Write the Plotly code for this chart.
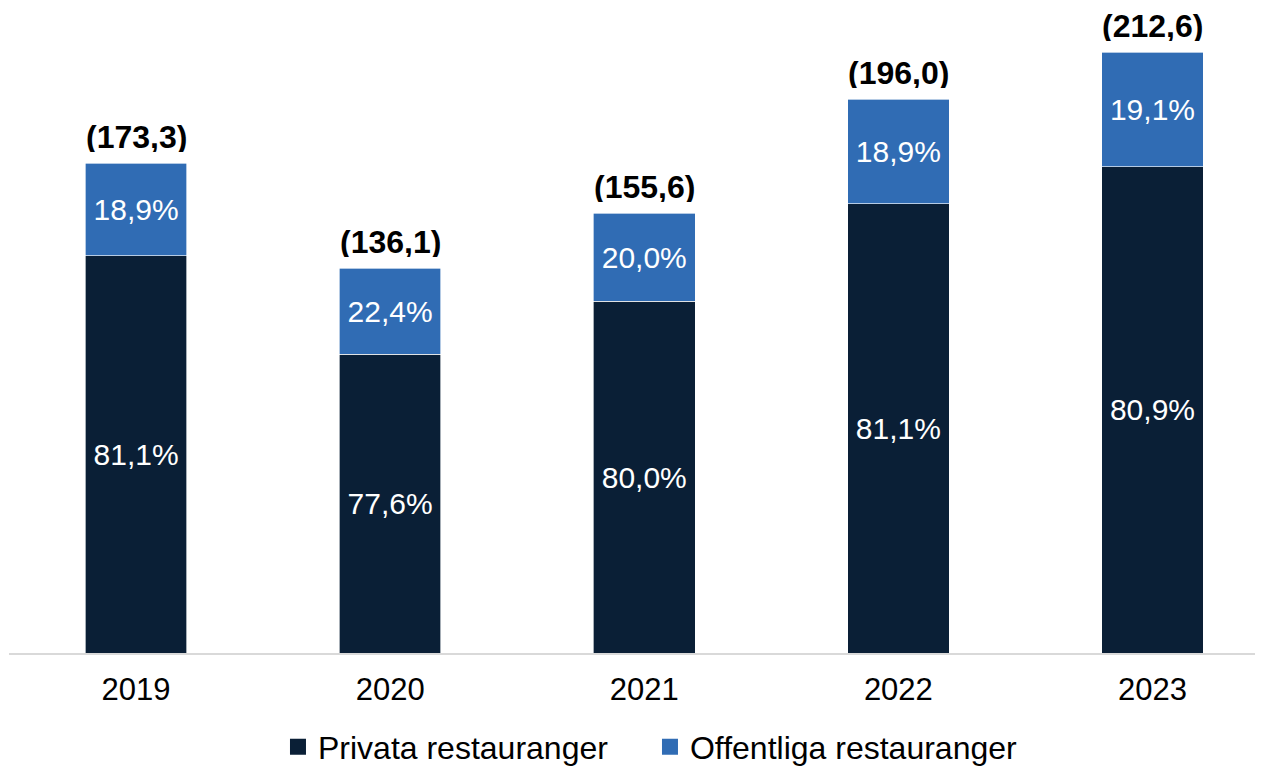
import plotly.graph_objects as go

years = ["2019", "2020", "2021", "2022", "2023"]
totals = [173.3, 136.1, 155.6, 196.0, 212.6]
privata_pct = [81.1, 77.6, 80.0, 81.1, 80.9]
offentliga_pct = [18.9, 22.4, 20.0, 18.9, 19.1]

NAVY = "#0a1f36"
BLUE = "#306cb4"
FONT = "Liberation Sans, Arial, sans-serif"


def fmt(v, dec=1):
    return f"{v:.{dec}f}".replace(".", ",")


privata_vals = [t * p / 100 for t, p in zip(totals, privata_pct)]
offentliga_vals = [t * p / 100 for t, p in zip(totals, offentliga_pct)]

fig = go.Figure()
fig.add_trace(go.Bar(
    x=years, y=privata_vals, name="Privata restauranger",
    marker=dict(color=NAVY, line=dict(color="rgba(255,255,255,0.8)", width=0.8)),
    text=[fmt(p) + "%" for p in privata_pct], textposition="inside",
    insidetextanchor="middle", constraintext="none",
    textfont=dict(color="white", size=30, family=FONT),
    width=0.40, showlegend=False, hoverinfo="skip",
))
fig.add_trace(go.Bar(
    x=years, y=offentliga_vals, name="Offentliga restauranger",
    marker=dict(color=BLUE, line=dict(color="rgba(255,255,255,0.8)", width=0.8)),
    text=[fmt(p) + "%" for p in offentliga_pct], textposition="inside",
    insidetextanchor="middle", constraintext="none",
    textfont=dict(color="white", size=30, family=FONT),
    width=0.40, showlegend=False, hoverinfo="skip",
))
# legend entries
fig.add_trace(go.Scatter(x=[None], y=[None], mode="markers", name="Privata restauranger",
                         marker=dict(symbol="square", size=16, color=NAVY)))
fig.add_trace(go.Scatter(x=[None], y=[None], mode="markers", name="Offentliga restauranger",
                         marker=dict(symbol="square", size=16, color=BLUE)))

for i, t in enumerate(totals):
    fig.add_annotation(
        x=i, y=t, xref="x", yref="y", text="<b>(" + fmt(t) + ")</b>", showarrow=False,
        yanchor="bottom", yshift=10, height=30, valign="middle", borderpad=0,
        font=dict(color="black", size=32, family=FONT),
    )

fig.update_layout(
    barmode="stack",
    width=1255, height=759,
    margin=dict(l=1, r=0, t=0, b=114, autoexpand=False),
    paper_bgcolor="white", plot_bgcolor="white",
    font=dict(family=FONT, color="black"),
    xaxis=dict(
        type="category", range=[-0.5, 4.435],
        showline=True, linecolor="#d9d9d9", linewidth=2,
        ticks="", tickfont=dict(size=31, color="black"), showgrid=False,
        ticklabelstandoff=8,
    ),
    yaxis=dict(range=[0, 228.2], visible=False, showgrid=False, zeroline=False),
    legend=dict(
        orientation="h", x=0.2145, xanchor="left", y=-0.1455, yanchor="middle",
        font=dict(size=32, family=FONT, color="black"),
        itemsizing="trace", traceorder="normal",
        entrywidth=327, entrywidthmode="pixels",
    ),
)

fig.write_html("out.html")
